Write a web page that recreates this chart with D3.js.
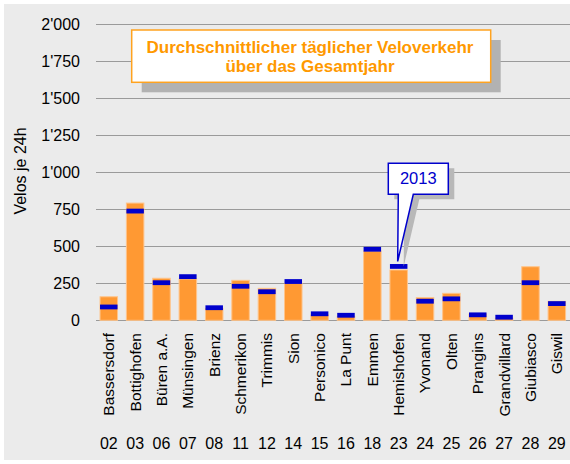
<!DOCTYPE html>
<html><head><meta charset="utf-8">
<script src="https://cdn.jsdelivr.net/npm/d3@7"></script>
<style>body{margin:0;background:#fff}svg{display:block}</style>
</head><body>
<svg id="c" width="570" height="464"></svg>
<script>
const stations = ["Bassersdorf","Bottighofen","Büren a.A.","Münsingen","Brienz","Schmerikon","Trimmis","Sion","Personico","La Punt","Emmen","Hemishofen","Yvonand","Olten","Prangins","Grandvillard","Giubiasco","Giswil"];
const codes = ["02","03","06","07","08","11","12","14","15","16","18","23","24","25","26","27","28","29"];
const annual = [159, 792, 284, 279, 80, 270, 216, 250, 36, 27, 468, 340, 153, 182, 42, 14, 362, 128];
const year2013 = [90, 738, 254, 295, 85, 230, 193, 262, 44, 34, 480, 364, 129, 145, 37, 21, 254, 113];
const yTicks = [0, 250, 500, 750, 1000, 1250, 1500, 1750, 2000];
const titleLines = ["Durchschnittlicher täglicher Veloverkehr", "über das Gesamtjahr"];
const yTitle = "Velos je 24h";
const calloutText = "2013";
const calloutIndex = 11;

const svg = d3.select("#c");
const font = "'Liberation Sans', Arial, sans-serif";
svg.append("rect").attr("x",4).attr("y",4).attr("width",566).attr("height",456).attr("fill","#ebebeb");

const y = d3.scaleLinear().domain([0,2000]).range([320.3,24.3]);
const x = d3.scaleBand().domain(stations).range([95.6,570]).paddingInner(0.336).paddingOuter(0.168);

const fmt = v => d3.format(",")(v).replace(/,/g,"'");

// gridlines
svg.append("g").selectAll("line").data(yTicks).join("line")
  .attr("x1",96).attr("x2",570)
  .attr("y1",d=>Math.round(y(d))+0.5).attr("y2",d=>Math.round(y(d))+0.5)
  .attr("stroke","#9a9a9a").attr("stroke-width",1.2);

svg.append("g").selectAll("text").data(yTicks).join("text")
  .attr("x",80).attr("y",d=>y(d)).attr("dy","0.36em")
  .attr("text-anchor","end").attr("font-family",font).attr("font-size",16).attr("fill","#000")
  .text(fmt);

svg.append("text").attr("transform","translate(20,171) rotate(-90)")
  .attr("text-anchor","middle").attr("dy","0.36em")
  .attr("font-family",font).attr("font-size",16).text(yTitle);

// bars
svg.append("g").selectAll("rect").data(stations).join("rect")
  .attr("x",(d)=>x(d)).attr("width",x.bandwidth())
  .attr("y",(d,i)=>y(annual[i])).attr("height",(d,i)=>y(0)-y(annual[i]))
  .attr("fill","#ff9933").attr("stroke","#ffc48a").attr("stroke-width",1);

// 2013 markers
svg.append("g").selectAll("rect").data(stations).join("rect")
  .attr("x",(d)=>x(d)).attr("width",x.bandwidth())
  .attr("y",(d,i)=>y(year2013[i])-2.4).attr("height",4.8)
  .attr("fill","#0000cc");

// category labels
svg.append("g").selectAll("text").data(stations).join("text")
  .attr("transform",d=>`translate(${x(d)+x.bandwidth()/2},333) rotate(-90)`)
  .attr("dy","0.35em").attr("text-anchor","end")
  .attr("font-family",font).attr("font-size",15.5).text(d=>d);

svg.append("g").selectAll("text").data(codes).join("text")
  .attr("x",(d,i)=>x(stations[i])+x.bandwidth()/2).attr("y",443).attr("dy","0.36em")
  .attr("text-anchor","middle").attr("font-family",font).attr("font-size",16).text(d=>d);

// title box
svg.append("rect").attr("x",141.7).attr("y",40).attr("width",359).attr("height",52.3).attr("fill","#b2b2b2");
svg.append("rect").attr("x",131.7).attr("y",30).attr("width",359).attr("height",52.3)
  .attr("fill","#fff").attr("stroke","#ffa31f").attr("stroke-width",1.5);
svg.append("g").selectAll("text").data(titleLines).join("text")
  .attr("x",310).attr("y",(d,i)=>47+i*19).attr("dy","0.36em").attr("text-anchor","middle")
  .attr("font-family",font).attr("font-weight","bold").attr("font-size",17).attr("fill","#ff9900").text(d=>d);

// callout
const cx = x(stations[calloutIndex]) + x.bandwidth()/2 - 1;
const tipY = y(year2013[calloutIndex]) - 5;
const bx0 = 388.3, bx1 = 448.3, by0 = 163.3, by1 = 194.3;
const path = (dx,dy) => `M${bx0+dx},${by0+dy}H${bx1+dx}V${by1+dy}H${413.3+dx}L${cx+dx},${tipY+dy}L${398.3+dx},${by1+dy}H${bx0+dx}Z`;
svg.append("path").attr("d",path(6,5)).attr("fill","#b8b8b8");
svg.append("path").attr("d",path(0,0)).attr("fill","#fff").attr("stroke","#0000cc").attr("stroke-width",1.5);
svg.append("text").attr("x",418.3).attr("y",178.5).attr("dy","0.36em").attr("text-anchor","middle")
  .attr("font-family",font).attr("font-size",16.5).attr("fill","#0000cc").text(calloutText);
</script>
</body></html>
